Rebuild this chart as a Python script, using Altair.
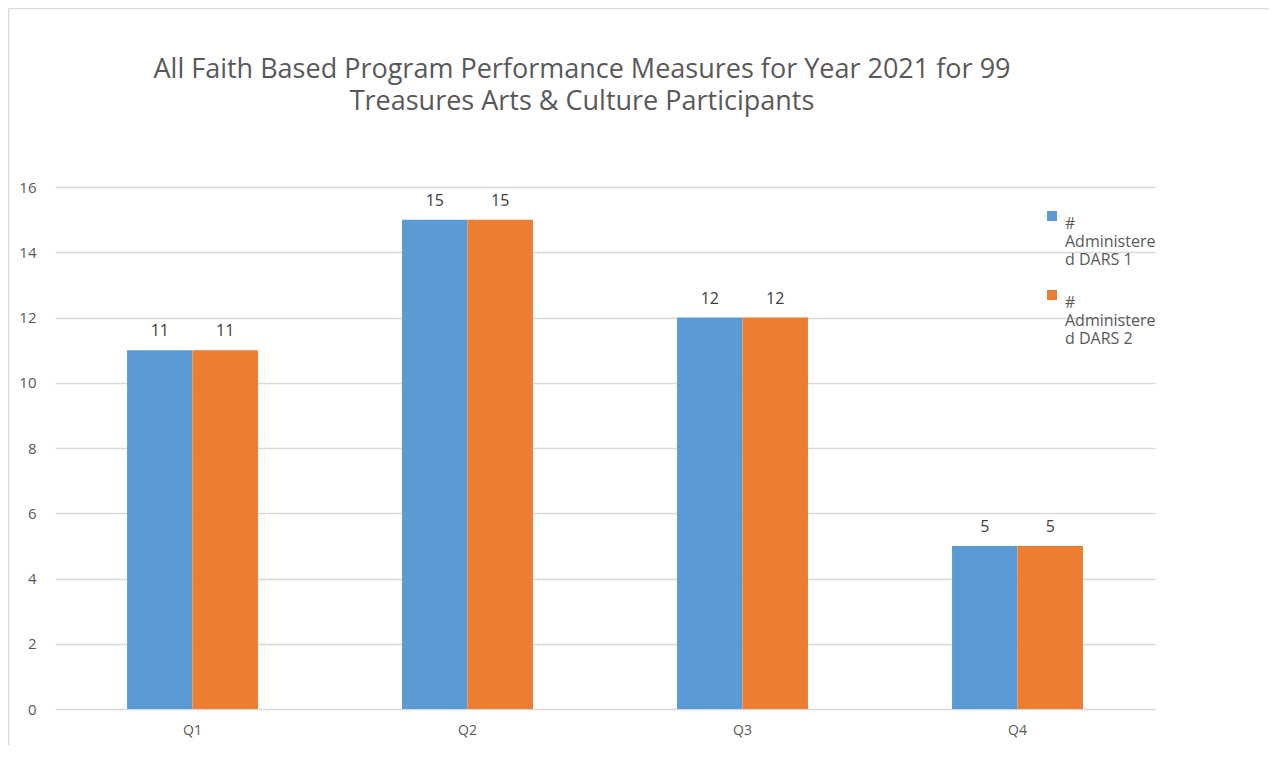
import altair as alt
import pandas as pd

quarters = ["Q1", "Q2", "Q3", "Q4"]
series_names = ["# Administered DARS 1", "# Administered DARS 2"]
dars1 = [11, 15, 12, 5]
dars2 = [11, 15, 12, 5]
colors = ["#5B9BD5", "#ED7D31"]
title_lines = [
    "All Faith Based Program Performance  Measures for Year 2021 for 99",
    "Treasures Arts & Culture Participants",
]
y_ticks = [0, 2, 4, 6, 8, 10, 12, 14, 16]

rows = []
for q, a, b in zip(quarters, dars1, dars2):
    rows.append({"quarter": q, "series": series_names[0], "value": a})
    rows.append({"quarter": q, "series": series_names[1], "value": b})
df = pd.DataFrame(rows)

FONT = "Open Sans"

x_enc = alt.X(
    "quarter:N",
    sort=quarters,
    scale=alt.Scale(paddingInner=0.524, paddingOuter=0.262),
    axis=alt.Axis(
        title=None, labelAngle=0, domain=False, ticks=False, labelPadding=14,
        labelFont=FONT, labelFontSize=14, labelColor="#595959",
    ),
)
y_enc = alt.Y(
    "value:Q",
    scale=alt.Scale(domain=[0, 16], nice=False),
    axis=alt.Axis(
        title=None, values=y_ticks, domain=False, ticks=False, labelPadding=19,
        grid=True, gridColor="#D9D9D9", gridWidth=1.3,
        labelFont=FONT, labelFontSize=15, labelColor="#595959",
    ),
)
xoff = alt.XOffset("series:N", sort=series_names,
                   scale=alt.Scale(paddingInner=0, paddingOuter=0))

base = alt.Chart(df)

bars = base.mark_bar().encode(
    x=x_enc,
    xOffset=xoff,
    y=y_enc,
    color=alt.Color(
        "series:N",
        scale=alt.Scale(domain=series_names, range=colors),
        legend=alt.Legend(
            title=None, orient="none", legendX=989, legendY=21,
            symbolType="square", symbolSize=100, symbolStrokeWidth=0,
            labelExpr="[slice(datum.label,0,1), slice(datum.label,2,13), slice(datum.label,13)]",
            labelBaseline="top", labelFont=FONT, labelFontSize=16,
            labelColor="#595959", labelOffset=5, labelLimit=300,
            rowPadding=19, padding=0,
        ),
    ),
)

labels = base.mark_text(
    dy=-14, baseline="alphabetic", font=FONT, fontSize=16, color="#404040"
).encode(
    x=x_enc,
    xOffset=xoff,
    y=alt.Y("value:Q"),
    text=alt.Text("value:Q"),
)

frame_df = pd.DataFrame({"k": [0]})
border_left = alt.Chart(frame_df).mark_rule(color="#D9D9D9", strokeWidth=1.5).encode(
    x=alt.value(-46.5), y=alt.value(-178.5), y2=alt.value(560)
)
border_top = alt.Chart(frame_df).mark_rule(color="#D9D9D9", strokeWidth=1.5).encode(
    x=alt.value(-46.5), x2=alt.value(1240), y=alt.value(-178.5)
)

chart = alt.layer(border_left, border_top, bars, labels).properties(
    width=1100,
    height=522,
    autosize="none",
    padding={"left": 47, "top": 179, "right": 114, "bottom": 36},
    title=alt.TitleParams(
        text=title_lines, font=FONT, fontSize=27, fontWeight="normal",
        color="#595959", anchor="middle", frame="group", dx=-23,
        offset=-135, baseline="bottom", lineHeight=32,
    ),
).configure_view(stroke=None)

chart.save("out.html", embed_options={"renderer": "svg", "actions": False})
